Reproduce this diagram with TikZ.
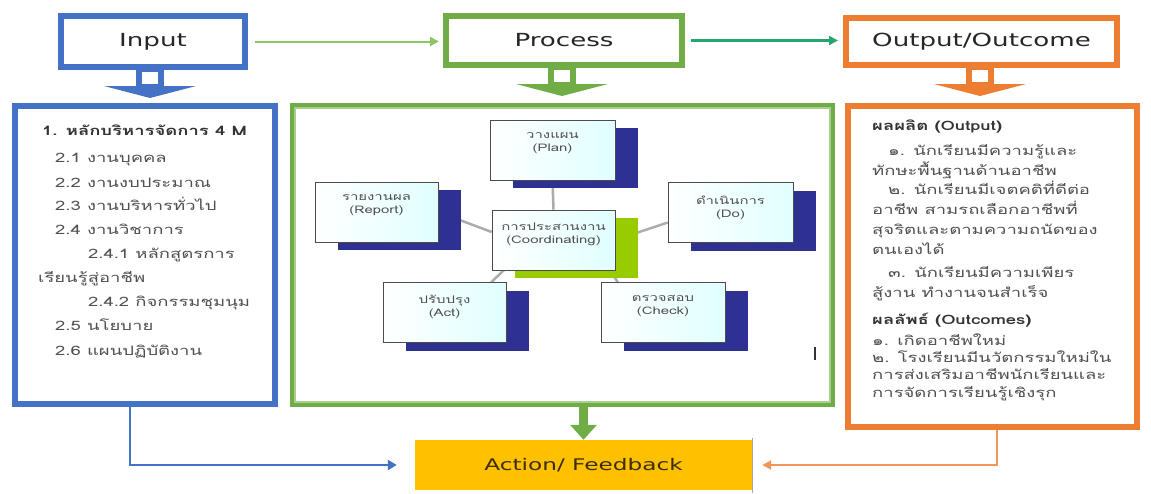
\documentclass[tikz,border=0pt]{standalone}
\usepackage{fontspec}
\setmainfont{DejaVu Sans}
\newfontfamily\ttlfont[FakeStretch=1.45]{DejaVu Sans}
\newfontfamily\thaifont[Script=Thai,FakeStretch=1.42]{Loma}
\usetikzlibrary{shadows,arrows.meta,calc}
\definecolor{inblue}{RGB}{68,114,196}
\definecolor{prgreen}{RGB}{112,173,71}
\definecolor{ouorange}{RGB}{237,125,49}
\definecolor{tealg}{RGB}{40,165,110}
\definecolor{lgreen}{RGB}{140,198,100}
\definecolor{goldy}{RGB}{255,192,0}
\definecolor{navyb}{RGB}{46,49,146}
\definecolor{limeg}{RGB}{153,204,0}
\definecolor{lorange}{RGB}{241,150,90}
\definecolor{txtgray}{RGB}{80,80,80}
\pgfdeclarelayer{back}\pgfdeclarelayer{mid}\pgfsetlayers{back,mid,main}
\tikzset{
  frame/.style={draw=#1, line width=5pt, fill=white, inner sep=0pt},
  ttl/.style={font=\ttlfont\fontsize{18}{20}\selectfont, text=black!85},
  pbox/.style={draw=gray!60!black, line width=0.6pt, left color=white, right color=cyan!12!white,
     minimum width=123pt, minimum height=60pt, inner sep=0pt, text=txtgray,
     font=\thaifont\fontsize{10.5}{13}\selectfont,
     drop shadow={shadow xshift=23pt, shadow yshift=-8pt, fill=#1, opacity=1}},
  pbox/.default=navyb,
  thl/.style={anchor=mid west, inner sep=0pt, text=txtgray, font=\thaifont\fontsize{13}{15}\selectfont},
  thb/.style={thl, text=black!80, font=\thaifont\bfseries\fontsize{13}{15}\selectfont},
  gcon/.style={draw=gray!65, line width=2.5pt},
  downblk/.pic={
    \fill[pic actions] (-14pt,0pt) rectangle (14pt,-16pt);
    \fill[white] (-8pt,-2pt) rectangle (8pt,-14pt);
    \fill[pic actions] (-46pt,-16pt) -- (46pt,-16pt) -- (0pt,-28pt) -- cycle;
  }
}
\newcommand{\ptxt}[2]{\parbox[c][34pt][t]{118pt}{\centering #1\\#2}}
\begin{document}
\begin{tikzpicture}[x=1pt,y=-1pt]
\useasboundingbox (0,0) rectangle (1151,493);

\begin{pgfonlayer}{back}
% title boxes
\node[frame=inblue, minimum width=185pt, minimum height=52pt, ttl] (inT) at (153,41.5) {Input};
\node[frame=prgreen, minimum width=237pt, minimum height=50pt, ttl] (prT) at (564,40.5) {Process};
\node[frame=ouorange, minimum width=272pt, minimum height=48pt, ttl] (ouT) at (981.5,41.5) {Output/Outcome};
% big boxes
\node[frame=inblue, minimum width=261pt, minimum height=299pt] (inbox) at (145,255) {};
\node[frame=prgreen, minimum width=540pt, minimum height=299pt] (prbox) at (562.5,255) {};
\node[frame=ouorange, minimum width=290pt, minimum height=322pt] (oubox) at (992.5,266.5) {};
% inner lines
\foreach \n/\c in {inT/inblue, prT/prgreen, ouT/ouorange, inbox/inblue, prbox/prgreen!60, oubox/ouorange}{
  \draw[\c, line width=1.4pt] ([shift={(5pt,-5pt)}]\n.north west) rectangle ([shift={(-5pt,5pt)}]\n.south east);
}
\end{pgfonlayer}

% block arrows under the titles
\pic[fill=inblue] at ([xshift=-3pt]inT.south) {downblk};
\pic[fill=prgreen] at ([xshift=-2pt]prT.south) {downblk};
\pic[fill=ouorange] at ([xshift=-1.5pt]ouT.south) {downblk};

% arrows between titles
\draw[lgreen, line width=2pt, -{Triangle[length=9pt,width=9pt]}, shorten <=7pt, shorten >=4pt]
  (inT.east) -- (inT.east -| prT.west);
\draw[tealg, line width=2.5pt, -{Triangle[length=9pt,width=9pt]}, shorten <=6pt, shorten >=5pt]
  (prT.east) -- (prT.east -| ouT.west);

% left box text
\node[thb] (l1) at (42,133) {1. หลักบริหารจัดการ 4 M};
\node[thl] (l2) at (55,160) {2.1 งานบุคคล};
\node[thl] (l3) at (55,185) {2.2 งานงบประมาณ};
\node[thl] (l4) at (55,208) {2.3 งานบริหารทั่วไป};
\node[thl] (l5) at (55,232) {2.4 งานวิชาการ};
\node[thl] (l6) at (88,256) {2.4.1 หลักสูตรการ};
\node[thl] (l7) at (38,280) {เรียนรู้สู่อาชีพ};
\node[thl] (l8) at (88,304) {2.4.2 กิจกรรมชุมนุม};
\node[thl] (l9) at (55,328) {2.5 นโยบาย};
\node[thl] (l10) at (55,353) {2.6 แผนปฏิบัติงาน};

% right box text
\node[thb] (r1) at (872,128) {ผลผลิต (Output)};
\node[thl] (r2) at (888,153) {๑. นักเรียนมีความรู้และ};
\node[thl] (r3) at (872,173) {ทักษะพื้นฐานด้านอาชีพ};
\node[thl] (r4) at (888,192) {๒. นักเรียนมีเจตคติที่ดีต่อ};
\node[thl] (r5) at (872,212) {อาชีพ สามรถเลือกอาชีพที่};
\node[thl] (r6) at (872,232) {สุจริตและตามความถนัดของ};
\node[thl] (r7) at (872,252) {ตนเองได้};
\node[thl] (r8) at (888,275) {๓. นักเรียนมีความเพียร};
\node[thl] (r9) at (872,295) {สู้งาน ทำงานจนสำเร็จ};
\node[thb] (r10) at (872,322) {ผลลัพธ์ (Outcomes)};
\node[thl] (r11) at (872,343) {๑. เกิดอาชีพใหม่};
\node[thl] (r12) at (872,360) {๒. โรงเรียนมีนวัตกรรมใหม่ใน};
\node[thl] (r13) at (872,377) {การส่งเสริมอาชีพนักเรียนและ};
\node[thl] (r14) at (872,395) {การจัดการเรียนรู้เชิงรุก};

% PDCA boxes
\node[pbox, minimum width=125pt] (plan) at (552.5,150) {\ptxt{วางแผน}{(Plan)}};
\node[pbox=limeg] (coord) at (553.5,240) {\ptxt{การประสานงาน}{(Coordinating)}};
\node[pbox] (report) at (376.5,212) {\ptxt{รายงานผล}{(Report)}};
\node[pbox, minimum width=125pt] (do) at (730.5,212.5) {\ptxt{ดำเนินการ}{(Do)}};
\node[pbox] (act) at (444.5,312.5) {\ptxt{ปรับปรุง}{(Act)}};
\node[pbox, minimum width=124pt] (check) at (663,312.5) {\ptxt{ตรวจสอบ}{(Check)}};

\begin{pgfonlayer}{mid}
\draw[gcon] (plan.south) -- (coord.north);
\draw[gcon] (report.east) -- ([yshift=8pt]coord.west);
\draw[gcon] (coord.east) -- ([yshift=-10pt]do.west);
\draw[gcon] ([xshift=12pt]coord.south west) -- ([xshift=-15pt]act.north east);
\draw[gcon] ([xshift=-5pt]coord.south east) -- ([xshift=17pt]check.north west);
\end{pgfonlayer}

\draw[black!80, line width=1.5pt] (815,347) -- (815,360);

% action / feedback
\node[fill=goldy, minimum width=337pt, minimum height=50pt, inner sep=0pt,
  font=\ttlfont\fontsize{16}{18}\selectfont, text={rgb,255:red,60;green,45;blue,10}] (fb) at (583.5,465) {Action/ Feedback};
\draw[gray!70, line width=0.8pt] ([yshift=2pt]fb.north east) -- ([yshift=-3pt]fb.south east);

% connectors to action/feedback
\draw[prgreen, line width=9pt, -{Triangle[length=15pt,width=26pt]}] (prbox.south -| fb.north) -- (fb.north);
\draw[inblue, line width=2.5pt, -{Triangle[length=9pt,width=10pt]}] ([xshift=-15pt]inbox.south) |- ([xshift=-18pt]fb.west);
\draw[lorange, line width=2pt, -{Triangle[length=9pt,width=9pt]}] ([xshift=4.5pt]oubox.south) |- ([xshift=10pt]fb.east);
\end{tikzpicture}
\end{document}
